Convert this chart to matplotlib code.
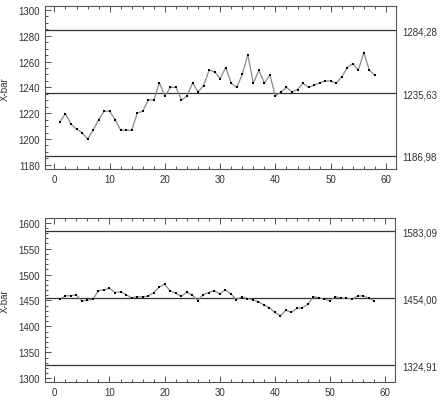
import numpy as np
import matplotlib.pyplot as plt
from matplotlib.ticker import MultipleLocator

plt.rcParams['font.family'] = ['Liberation Sans', 'DejaVu Sans']

# Subgroup numbers
samples = np.arange(1, 59)

# X-bar values, chart 1
xbar_top = [1213.3, 1219.7, 1211.5, 1207.6, 1205.0, 1200.0, 1206.8, 1214.8, 1221.5, 1221.5,
            1214.8, 1206.8, 1206.8, 1206.8, 1220.0, 1221.5, 1230.3, 1230.3, 1243.5, 1233.2,
            1240.0, 1240.0, 1230.3, 1233.2, 1243.5, 1236.5, 1241.4, 1253.3, 1252.0, 1246.8,
            1255.4, 1243.2, 1240.0, 1250.0, 1265.4, 1243.2, 1253.3, 1243.2, 1249.7, 1233.2,
            1236.5, 1240.0, 1236.5, 1238.3, 1243.2, 1240.0, 1241.7, 1243.5, 1245.0, 1245.0,
            1243.2, 1248.0, 1255.4, 1258.5, 1253.3, 1267.0, 1253.3, 1249.4]
limits_top = [1284.28, 1235.63, 1186.98]

# X-bar values, chart 2
xbar_bot = [1452.3, 1458.7, 1459.4, 1460.6, 1449.0, 1450.3, 1452.3, 1469.0, 1470.3, 1473.5,
            1465.2, 1467.0, 1461.3, 1454.8, 1457.4, 1456.8, 1458.0, 1465.2, 1475.5, 1481.3,
            1468.4, 1463.9, 1458.0, 1465.8, 1460.6, 1449.7, 1461.3, 1465.2, 1469.0, 1462.6,
            1470.3, 1463.2, 1451.6, 1456.8, 1453.5, 1451.6, 1447.7, 1441.3, 1436.1, 1427.1,
            1420.6, 1430.9, 1427.1, 1434.8, 1436.1, 1442.6, 1457.4, 1455.5, 1452.3, 1449.7,
            1457.4, 1454.2, 1454.2, 1452.9, 1458.0, 1459.4, 1454.2, 1449.7]
limits_bot = [1583.09, 1454.00, 1324.91]

fig = plt.figure(figsize=(4.43, 4.02), dpi=100)


def xbar_chart(rect, values, limits, ylim, major, minor):
    ax = fig.add_axes(rect)
    for v in limits:
        ax.axhline(v, color='#333333', lw=0.9)
    ax.plot(samples, values, color='#8a8a8a', lw=0.9, marker='s', ms=1.9,
            mfc='black', mec='black', mew=0)
    ax.set_xlim(-1.7, 61.8)
    ax.set_ylim(*ylim)
    ax.xaxis.set_major_locator(MultipleLocator(10))
    ax.xaxis.set_minor_locator(MultipleLocator(2))
    ax.yaxis.set_major_locator(MultipleLocator(major))
    ax.yaxis.set_minor_locator(MultipleLocator(minor))
    ax.tick_params(which='both', direction='in', top=True, right=True,
                   labelsize=7, colors='#333333', width=0.6)
    ax.tick_params(which='major', length=4)
    ax.tick_params(which='minor', length=2)
    ax.set_ylabel('X-bar', fontsize=7, color='#333333', labelpad=6)
    for s in ax.spines.values():
        s.set_color('#555555')
        s.set_linewidth(0.8)
    # control limit labels on the right
    ax2 = ax.twinx()
    ax2.set_ylim(*ylim)
    ax2.set_yticks(limits)
    ax2.set_yticklabels([f'{v:.2f}'.replace('.', ',') for v in limits])
    ax2.tick_params(length=0, labelsize=7, colors='#333333', pad=5)
    for s in ax2.spines.values():
        s.set_visible(False)
    return ax


xbar_chart([0.1016, 0.577, 0.792, 0.405], xbar_top, limits_top, (1176.7, 1302.9), 20, 5)
xbar_chart([0.1016, 0.0473, 0.790, 0.408], xbar_bot, limits_bot, (1292.9, 1609), 50, 10)

fig.savefig('out.png', dpi=100)
